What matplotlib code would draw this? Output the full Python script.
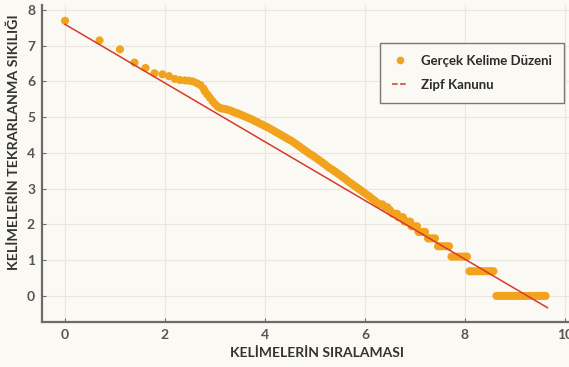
import matplotlib.pyplot as plt
from matplotlib.lines import Line2D

# ilk kelimeler (tek tek gorunen noktalar)
bas_x = [0.00, 0.69, 1.10, 1.39, 1.61, 1.79, 1.95, 2.08, 2.20, 2.30, 2.40, 2.48,
         2.56, 2.64, 2.71, 2.77]
bas_y = [7.70, 7.15, 6.90, 6.53, 6.38, 6.23, 6.20, 6.15, 6.07, 6.04, 6.03, 6.02,
         6.00, 5.95, 5.90, 5.80]

# yogun bolge
orta_x = [2.80, 2.85, 2.90, 2.95, 3.00, 3.05, 3.10, 3.15, 3.20, 3.25, 3.30, 3.35,
          3.40, 3.45, 3.50, 3.55, 3.60, 3.65, 3.70, 3.75, 3.80, 3.85, 3.90, 3.95,
          4.00, 4.05, 4.10, 4.15, 4.20, 4.25, 4.30, 4.35, 4.40, 4.45, 4.50, 4.55,
          4.60, 4.65, 4.70, 4.75, 4.80, 4.85, 4.90, 4.95, 5.00, 5.05, 5.10, 5.15,
          5.20, 5.25, 5.30, 5.35, 5.40, 5.45, 5.50, 5.55, 5.60, 5.65, 5.70, 5.75,
          5.80, 5.85, 5.90, 5.95, 6.00, 6.05, 6.10, 6.15, 6.20, 6.25, 6.30, 6.35,
          6.40, 6.45, 6.50]
orta_y = [5.72, 5.63, 5.54, 5.45, 5.37, 5.30, 5.26, 5.24, 5.23, 5.21, 5.19, 5.16,
          5.13, 5.11, 5.08, 5.05, 5.02, 4.99, 4.96, 4.93, 4.89, 4.86, 4.82, 4.79,
          4.75, 4.72, 4.68, 4.64, 4.60, 4.56, 4.52, 4.48, 4.44, 4.40, 4.36, 4.32,
          4.27, 4.22, 4.17, 4.12, 4.07, 4.02, 3.97, 3.93, 3.88, 3.83, 3.78, 3.73,
          3.68, 3.62, 3.57, 3.53, 3.48, 3.43, 3.38, 3.33, 3.28, 3.22, 3.17, 3.12,
          3.07, 3.02, 2.97, 2.92, 2.87, 2.82, 2.77, 2.71, 2.66, 2.60, 2.56, 2.56,
          2.48, 2.48, 2.40]

# basamaklar (az tekrar eden kelimeler)
son_x = [6.55, 6.60, 6.64,
         6.67, 6.72, 6.76,
         6.79, 6.84, 6.90,
         6.93, 6.98, 7.04,
         7.07, 7.12, 7.16, 7.20,
         7.26, 7.30, 7.35, 7.40,
         7.46, 7.51, 7.56, 7.62, 7.68,
         7.73, 7.78, 7.84, 7.89, 7.94, 7.99, 8.04,
         8.09, 8.14, 8.19, 8.24, 8.29, 8.34, 8.39, 8.44, 8.49, 8.53, 8.57,
         8.63, 8.68, 8.73, 8.78, 8.83, 8.88, 8.93, 8.98, 9.03, 9.08, 9.13,
         9.18, 9.23, 9.28, 9.33, 9.38, 9.43, 9.48, 9.53, 9.57, 9.61]
son_y = [2.30, 2.30, 2.30,
         2.20, 2.20, 2.20,
         2.08, 2.08, 2.08,
         1.95, 1.95, 1.95,
         1.79, 1.79, 1.79, 1.79,
         1.61, 1.61, 1.61, 1.61,
         1.39, 1.39, 1.39, 1.39, 1.39,
         1.10, 1.10, 1.10, 1.10, 1.10, 1.10, 1.10,
         0.69, 0.69, 0.69, 0.69, 0.69, 0.69, 0.69, 0.69, 0.69, 0.69, 0.69,
         0.00, 0.00, 0.00, 0.00, 0.00, 0.00, 0.00, 0.00, 0.00, 0.00, 0.00,
         0.00, 0.00, 0.00, 0.00, 0.00, 0.00, 0.00, 0.00, 0.00, 0.00]

zipf_x = [0.0, 9.65]
zipf_y = [7.60, -0.33]

x_ticks = [0, 2, 4, 6, 8, 10]
y_ticks = [0, 1, 2, 3, 4, 5, 6, 7, 8]

arka = '#fbf9f3'
turuncu = '#f2a31e'
kirmizi = '#d8392c'

plt.rcParams['font.family'] = ['Lato', 'DejaVu Sans']

fig = plt.figure(figsize=(5.69, 3.67), dpi=100, facecolor=arka)
ax = fig.add_axes([42/569, 45/367, 527/569, 317/367], facecolor=arka)

ax.scatter(bas_x + orta_x + son_x, bas_y + orta_y + son_y, s=34, color=turuncu,
           edgecolors='none', zorder=3)
ax.plot(zipf_x, zipf_y, color=kirmizi, lw=1.1, zorder=4)

ax.set_xlim(-0.46, 10.08)
ax.set_ylim(-0.73, 8.14)
ax.set_xticks(x_ticks)
ax.set_yticks(y_ticks)
ax.grid(True, color='#e9e6de', lw=0.8)
ax.set_axisbelow(True)
for s in ['top', 'right']:
    ax.spines[s].set_visible(False)
for s in ['left', 'bottom']:
    ax.spines[s].set_color('#6b6b6b')
    ax.spines[s].set_linewidth(1.6)
ax.tick_params(direction='in', length=3, width=0.8, color='#6b6b6b',
               labelsize=10, labelcolor='#555555', pad=5)
for lab in ax.get_xticklabels() + ax.get_yticklabels():
    lab.set_fontweight('bold')

fig.text(317/569, 1 - 353/367, 'KELİMELERİN SIRALAMASI', ha='center', va='center',
         fontsize=10, fontweight='bold', color='#333333')
fig.text(14/569, 1 - 142/367, 'KELİMELERİN TEKRARLANMA SIKILIĞI', ha='center',
         va='center', rotation=90, fontsize=10.3, fontweight='bold', color='#333333')

tutucular = [
    Line2D([], [], marker='o', ls='none', color=turuncu, markersize=4.5),
    Line2D([], [], ls='--', color=kirmizi, lw=1.1),
]
leg = ax.legend(tutucular, ['Gerçek Kelime Düzeni', 'Zipf Kanunu'],
                loc='upper left', bbox_to_anchor=(380/569, 1 - 43/367),
                bbox_transform=fig.transFigure, fancybox=False, framealpha=1,
                facecolor=arka, edgecolor='#777777', fontsize=9.5,
                handlelength=1.2, handletextpad=1.0, borderpad=0.9,
                labelspacing=0.9, borderaxespad=0)
leg.get_frame().set_linewidth(1.0)
for t in leg.get_texts():
    t.set_color('#2b2b2b')
    t.set_fontweight('bold')

fig.savefig('out.png', dpi=100, facecolor=arka)
